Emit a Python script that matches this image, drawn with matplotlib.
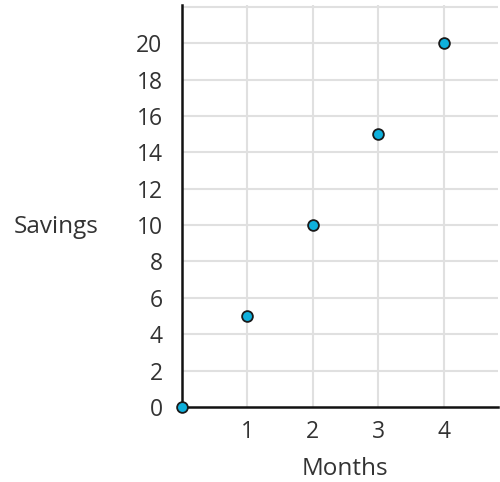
import matplotlib.pyplot as plt

months = [0, 1, 2, 3, 4]
savings = [0, 5, 10, 15, 20]
x_ticks = [1, 2, 3, 4]
y_ticks = [0, 2, 4, 6, 8, 10, 12, 14, 16, 18, 20]

plt.rcParams['font.family'] = ['Open Sans', 'DejaVu Sans']
text_color = '#333333'

fig = plt.figure(figsize=(5, 4.82), dpi=100)
ax = fig.add_axes([0.364, 0.1556, 0.632, 0.834])

ax.set_xlim(0, 4.83)
ax.set_ylim(0, 22.1)

# grid: vertical lines at each month, horizontal lines every 2
for x in [1, 2, 3, 4]:
    ax.axvline(x, color='#e0e0e0', lw=1.5, zorder=0)
for y in range(2, 23, 2):
    ax.axhline(y, color='#e0e0e0', lw=1.5, zorder=0)

ax.scatter(months, savings, s=60, color='#0fb0dc', edgecolors='#1a1a1a',
           linewidths=1.3, zorder=5, clip_on=False)

ax.set_xticks(x_ticks)
ax.set_yticks(y_ticks)
ax.tick_params(length=0, labelsize=16.5, colors=text_color, pad=14)
ax.tick_params(axis='x', pad=9)

for s in ['top', 'right']:
    ax.spines[s].set_visible(False)
for s in ['left', 'bottom']:
    ax.spines[s].set_color('#111111')
    ax.spines[s].set_linewidth(1.8)

ax.set_xlabel('Months', fontsize=17.5, color=text_color, labelpad=10)
ax.xaxis.label.set_x(0.516)
fig.text(0.113, 0.529, 'Savings', fontsize=17.5, color=text_color,
         ha='center', va='center')

fig.savefig('out.png', dpi=100)
